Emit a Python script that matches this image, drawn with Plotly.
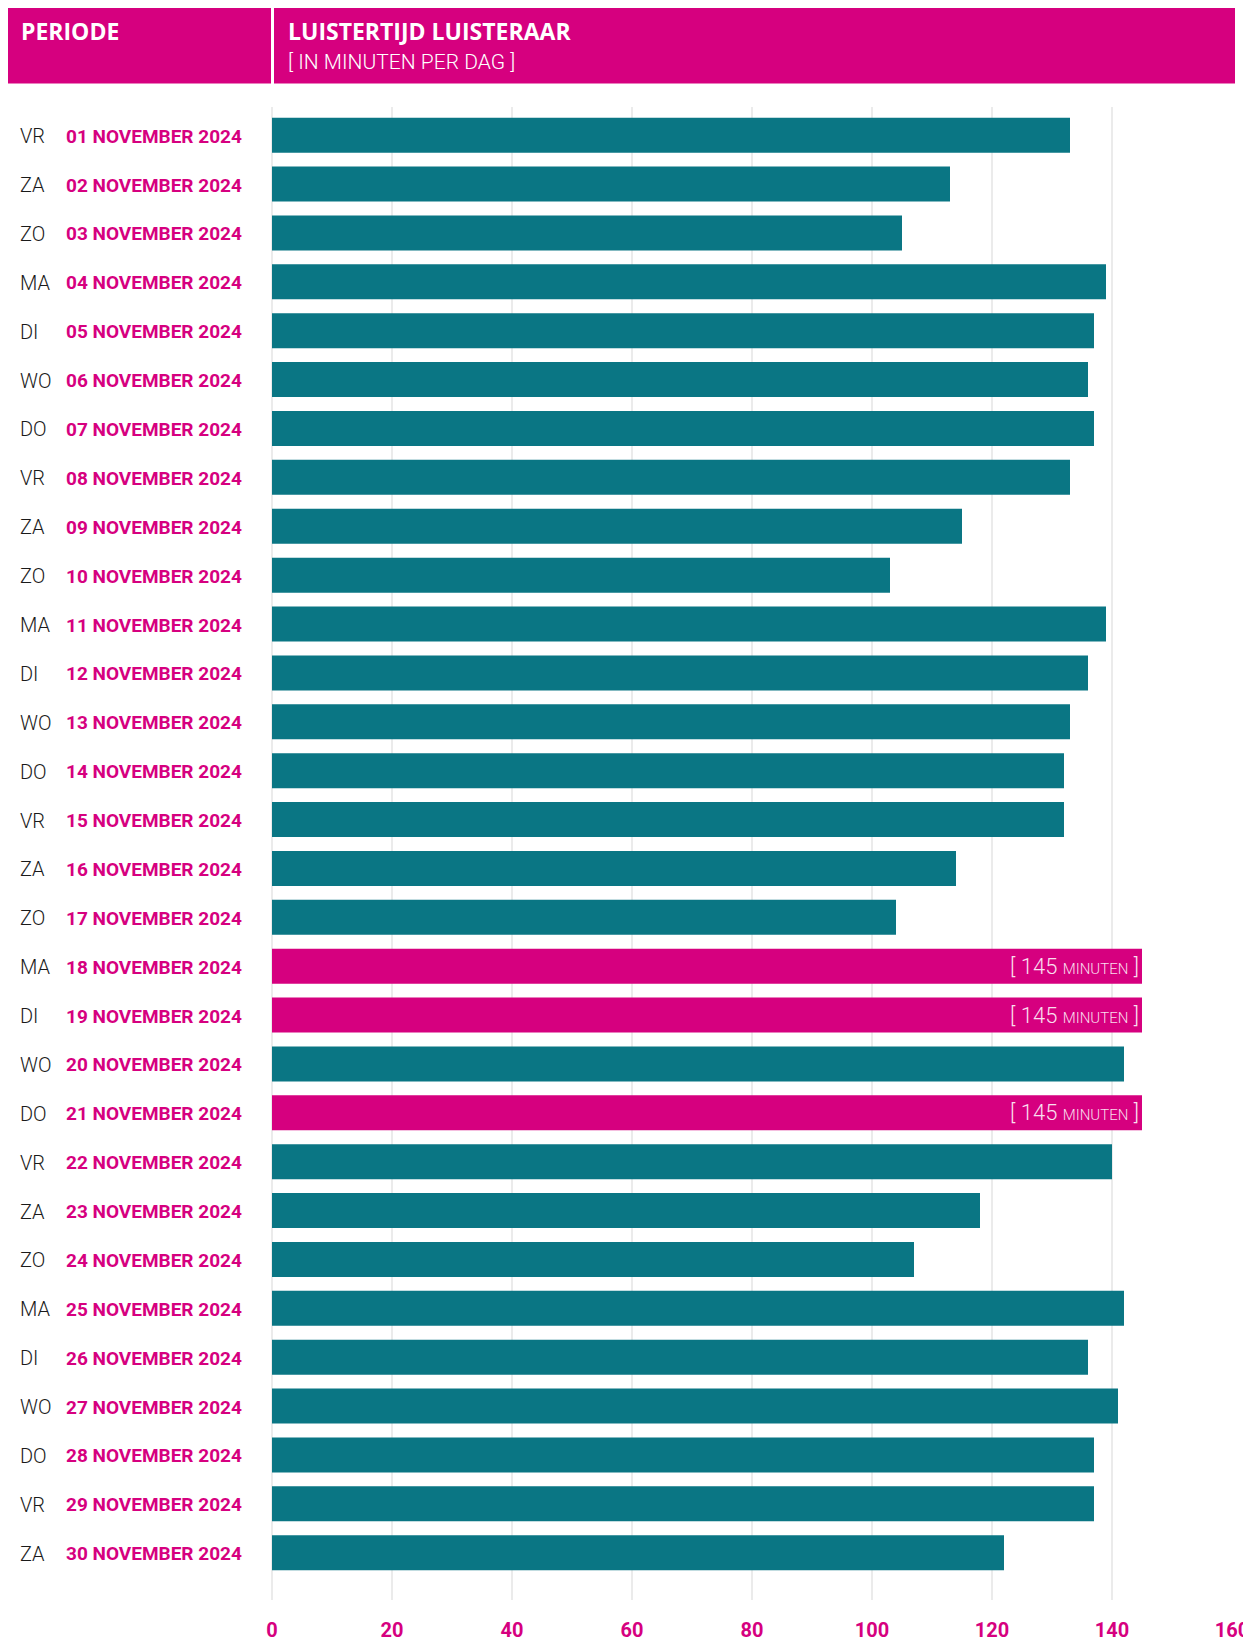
import plotly.graph_objects as go

# ---------------- data ----------------
days = ["VR", "ZA", "ZO", "MA", "DI", "WO", "DO",
        "VR", "ZA", "ZO", "MA", "DI", "WO", "DO",
        "VR", "ZA", "ZO", "MA", "DI", "WO", "DO",
        "VR", "ZA", "ZO", "MA", "DI", "WO", "DO",
        "VR", "ZA"]
dates = ["01 NOVEMBER 2024", "02 NOVEMBER 2024", "03 NOVEMBER 2024", "04 NOVEMBER 2024",
         "05 NOVEMBER 2024", "06 NOVEMBER 2024", "07 NOVEMBER 2024", "08 NOVEMBER 2024",
         "09 NOVEMBER 2024", "10 NOVEMBER 2024", "11 NOVEMBER 2024", "12 NOVEMBER 2024",
         "13 NOVEMBER 2024", "14 NOVEMBER 2024", "15 NOVEMBER 2024", "16 NOVEMBER 2024",
         "17 NOVEMBER 2024", "18 NOVEMBER 2024", "19 NOVEMBER 2024", "20 NOVEMBER 2024",
         "21 NOVEMBER 2024", "22 NOVEMBER 2024", "23 NOVEMBER 2024", "24 NOVEMBER 2024",
         "25 NOVEMBER 2024", "26 NOVEMBER 2024", "27 NOVEMBER 2024", "28 NOVEMBER 2024",
         "29 NOVEMBER 2024", "30 NOVEMBER 2024"]
minutes = [133, 113, 105, 139, 137, 136, 137, 133, 115, 103,
           139, 136, 133, 132, 132, 114, 104, 145, 145, 142,
           145, 140, 118, 107, 142, 136, 141, 137, 137, 122]
highlighted = ["18 NOVEMBER 2024", "19 NOVEMBER 2024", "21 NOVEMBER 2024"]
x_ticks = [0, 20, 40, 60, 80, 100, 120, 140, 160]

header_left = "PERIODE"
header_title = "LUISTERTIJD LUISTERAAR"
header_sub = "[ IN MINUTEN PER DAG ]"
bar_label_unit = "MINUTEN"

# ---------------- style ----------------
MAGENTA = "#D6007F"
TEAL = "#0A7684"
FONT = "Roboto"
HFONT = "Open Sans"

W, H = 1251, 1641
OFF = 8  # page body margin
L, R, T, B = 264, 27, 99, 48.5
PW = W - L - R
PH = H - T - B


def px_x(p):
    """screen x pixel -> paper x"""
    return (p - OFF - L) / PW


def px_y(p):
    """screen y pixel -> paper y"""
    return (H - B - (p - OFF)) / PH


colors = [MAGENTA if d in highlighted else TEAL for d in dates]
texts = [f"[ {v} <span style='font-size:15px'>{bar_label_unit}</span> ]" if d in highlighted else ""
         for d, v in zip(dates, minutes)]

fig = go.Figure(go.Bar(
    x=minutes, y=dates, orientation="h",
    marker=dict(color=colors, line=dict(width=0)),
    text=texts, textposition="inside", insidetextanchor="end",
    textfont=dict(family=FONT, size=22, color="rgba(255,255,255,0.88)", weight=300),
    cliponaxis=False,
    hoverinfo="skip",
))

x0_screen = L + OFF
annotations = []
for day, d in zip(days, dates):
    annotations.append(dict(
        x=0, xref="paper", xshift=19 - x0_screen - 1, xanchor="left",
        y=d, yref="y", yanchor="middle", yshift=-1,
        text=day, showarrow=False,
        font=dict(family=FONT, size=20, color="#1a1a1a", weight=300),
    ))
    annotations.append(dict(
        x=0, xref="paper", xshift=65 - x0_screen - 1, xanchor="left",
        y=d, yref="y", yanchor="middle", yshift=-1,
        text=f"<b>{d}</b>", showarrow=False,
        font=dict(family=FONT, size=19, color=MAGENTA),
    ))

# header texts
annotations += [
    dict(x=px_x(19), y=px_y(31), xref="paper", yref="paper", xanchor="left", yanchor="middle",
         text=f"<b>{header_left}</b>", showarrow=False,
         font=dict(family=HFONT, size=23, color="white")),
    dict(x=px_x(286), y=px_y(31), xref="paper", yref="paper", xanchor="left", yanchor="middle",
         text=f"<b>{header_title}</b>", showarrow=False,
         font=dict(family=HFONT, size=23, color="white")),
    dict(x=px_x(286), y=px_y(62), xref="paper", yref="paper", xanchor="left", yanchor="middle",
         text=header_sub, showarrow=False,
         font=dict(family=FONT, size=21, color="white", weight=300)),
]

shapes = [
    dict(type="rect", xref="paper", yref="paper", layer="below",
         x0=px_x(6), x1=px_x(271), y0=px_y(83.5), y1=px_y(8),
         fillcolor=MAGENTA, line=dict(width=0)),
    dict(type="rect", xref="paper", yref="paper", layer="below",
         x0=px_x(274), x1=px_x(1235), y0=px_y(83.5), y1=px_y(8),
         fillcolor=MAGENTA, line=dict(width=0)),
]

fig.update_layout(
    width=W, height=H,
    margin=dict(l=L, r=R, t=T, b=B, pad=0, autoexpand=False),
    paper_bgcolor="white", plot_bgcolor="white",
    bargap=0.284,
    showlegend=False,
    annotations=annotations,
    shapes=shapes,
    font=dict(family=FONT),
    xaxis=dict(
        range=[0, 160], tickvals=x_ticks, ticktext=[f"<b>{t}</b>" for t in x_ticks],
        showgrid=True, gridcolor="#ebebeb", gridwidth=2,
        zeroline=True, zerolinecolor="#ebebeb", zerolinewidth=2,
        showline=False, ticks="", ticklabelstandoff=16, automargin=False,
        tickfont=dict(family=FONT, size=20, color=MAGENTA),
        fixedrange=True,
    ),
    yaxis=dict(
        type="category", categoryorder="array", categoryarray=dates,
        range=[29.967, -0.577], automargin=False,
        showticklabels=False, showgrid=False, zeroline=False, showline=False, ticks="",
        fixedrange=True,
    ),
)

fig.write_html("out.html")
